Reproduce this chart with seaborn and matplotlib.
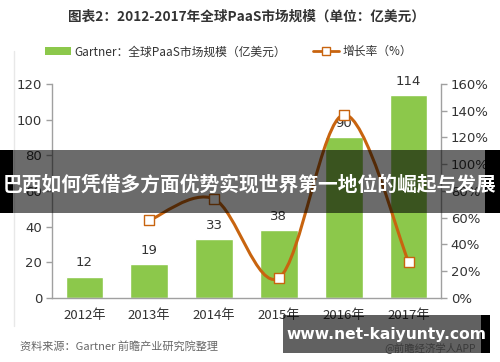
import matplotlib
matplotlib.use("Agg")
import matplotlib.pyplot as plt
import seaborn as sns
import numpy as np
import pandas as pd
from matplotlib.path import Path
from matplotlib.patches import PathPatch, Rectangle
from matplotlib.lines import Line2D
from matplotlib.patches import Patch

# ---- data ----
years = ["2012年", "2013年", "2014年", "2015年", "2016年", "2017年"]
market_size = [12, 19, 33, 38, 90, 114]
growth_years = ["2013年", "2014年", "2015年", "2016年", "2017年"]
growth_rate = [58, 74, 15, 137, 27]
left_ticks = [0, 20, 40, 60, 80, 100, 120]
right_ticks = [0, 20, 40, 60, 80, 100, 120, 140, 160]

title = "图表2：2012-2017年全球PaaS市场规模（单位：亿美元）"
bar_label = "Gartner：全球PaaS市场规模（亿美元）"
line_label = "增长率（%）"
source = "资料来源：Gartner 前瞻产业研究院整理"
banner = "巴西如何凭借多方面优势实现世界第一地位的崛起与发展"
site = "www.net-kaiyunty.com"
app = "@前瞻经济学人APP"

sns.set_theme(style="white")
plt.rcParams['font.family'] = ['Noto Sans CJK SC', 'DejaVu Sans']

GREEN = "#8cc84b"
ORANGE = "#c8640f"
TXT = "#333333"
SPINE = "#a0a0a0"

fig = plt.figure(figsize=(5, 3.62), dpi=100)
ax = fig.add_axes([0.104, 0.177, 0.778, 0.591])

df = pd.DataFrame({"year": years, "size": market_size})
sns.barplot(data=df, x="year", y="size", ax=ax, color=GREEN, width=0.58,
            saturation=1, zorder=2)
ax.set_xlim(-0.5, len(years) - 0.5)
ax.set_ylim(0, 120)
ax.set_yticks(left_ticks)
ax.set_xlabel("")
ax.set_ylabel("")
for i, v in enumerate(market_size):
    ax.text(i, v + 4, str(v), ha="center", va="bottom", fontsize=9.5, color=TXT,
            family="DejaVu Sans", zorder=6)

ax2 = ax.twinx()
ax2.set_ylim(0, 160)
ax2.set_yticks(right_ticks)
ax2.set_yticklabels([f"{t}%" for t in right_ticks])

# smooth curve (Catmull-Rom style Bezier) through growth points
xs = np.array([years.index(g) for g in growth_years], dtype=float)
ys = np.array(growth_rate, dtype=float)
pts = np.column_stack([xs, ys])
n = len(pts)
verts = [tuple(pts[0])]
codes = [Path.MOVETO]
t = 1 / 6
for i in range(n - 1):
    p0 = pts[i - 1] if i > 0 else pts[i]
    p1 = pts[i]
    p2 = pts[i + 1]
    p3 = pts[i + 2] if i + 2 < n else pts[i + 1]
    c1 = p1 + (p2 - p0) * t
    c2 = p2 - (p3 - p1) * t
    verts += [tuple(c1), tuple(c2), tuple(p2)]
    codes += [Path.CURVE4] * 3
ax2.add_patch(PathPatch(Path(verts, codes), facecolor="none", edgecolor=ORANGE,
                        lw=2.2, zorder=3))
gdf = pd.DataFrame({"x": xs, "g": ys})
sns.scatterplot(data=gdf, x="x", y="g", ax=ax2, marker="s", s=55,
                facecolor="white", edgecolor=ORANGE, linewidth=1.0, zorder=5)
ax2.set_xlim(-0.5, len(years) - 0.5)
ax2.set_xlabel("")
ax2.set_ylabel("")

for a in (ax, ax2):
    a.spines["top"].set_visible(False)
    for s in ("left", "right", "bottom"):
        a.spines[s].set_color(SPINE)
        a.spines[s].set_linewidth(1.0)
    a.tick_params(axis="y", colors=TXT, labelsize=9.5, length=4, width=1,
                  color=SPINE, direction="out")
    a.grid(False)
ax.spines["right"].set_visible(False)
ax2.spines["left"].set_visible(False)
ax2.spines["bottom"].set_visible(False)
ax.tick_params(axis="x", colors=TXT, labelsize=9.5, length=0, pad=8)
ax.set_xticks(np.arange(-0.5, len(years), 1.0), minor=True)
ax.tick_params(axis="x", which="minor", length=4, color=SPINE, width=1, direction="out")
ax.tick_params(axis="y", pad=3)
ax2.tick_params(axis="y", pad=3)
for lab in ax.get_yticklabels() + ax2.get_yticklabels():
    lab.set_family("DejaVu Sans")

# title & legend
fig.text(0.492, 0.953, title, ha="center", va="center", fontsize=9.8,
         fontweight="bold", color="#333333")
handles = [Patch(facecolor=GREEN, edgecolor="none", label=bar_label),
           Line2D([0], [0], color=ORANGE, lw=2, marker="s", markersize=6,
                  markerfacecolor="white", markeredgecolor=ORANGE, label=line_label)]
fig.legend(handles=handles, loc="center", bbox_to_anchor=(0.457, 0.857), ncol=2,
           frameon=False, fontsize=8.5, handlelength=2.2, handleheight=0.7,
           columnspacing=2.3, handletextpad=0.3, labelcolor=TXT)

# source
fig.text(0.04, 0.044, source, ha="left", va="center", fontsize=8,
         color="#666666", style="italic")

# faint frame line
fig.add_artist(Line2D([0.027, 0.027], [0.1, 0.86], color="#e8e8e8", lw=1,
                      transform=fig.transFigure))

# overlay banner
H = 362.0
W = 500.0
fig.add_artist(Rectangle((13 / W, 1 - 213 / H), (485 - 13) / W, 63 / H,
                         transform=fig.transFigure, facecolor="black", alpha=0.58,
                         edgecolor="none", zorder=10))
fig.add_artist(Rectangle((0, 1 - 213 / H), 13 / W, 63 / H, transform=fig.transFigure,
                         facecolor="black", edgecolor="none", zorder=10))
fig.add_artist(Rectangle((485 / W, 1 - 213 / H), 15 / W, 63 / H, transform=fig.transFigure,
                         facecolor="black", edgecolor="none", zorder=10))
fig.text(0.5, 1 - 185 / H, banner, ha="center", va="center", fontsize=14.2,
         fontweight="bold", color="white", zorder=11)

# bottom website banner
fig.add_artist(Rectangle((283 / W, 1 - 353 / H), (481 - 283) / W, 38 / H,
                         transform=fig.transFigure, facecolor="black", alpha=0.62,
                         edgecolor="none", zorder=10))
fig.add_artist(Rectangle((481 / W, 1 - 353 / H), 9 / W, 38 / H, transform=fig.transFigure,
                         facecolor="black", edgecolor="none", zorder=10))
fig.text(386 / W, 1 - 334 / H, site, ha="center", va="center", fontsize=11.2,
         fontweight="bold", color="white", zorder=11, family="DejaVu Sans")
fig.text(430 / W, 1 - 348 / H, app, ha="center", va="center", fontsize=7.5,
         color="#3a3a3a", zorder=11)

fig.savefig("out.png", dpi=100)
